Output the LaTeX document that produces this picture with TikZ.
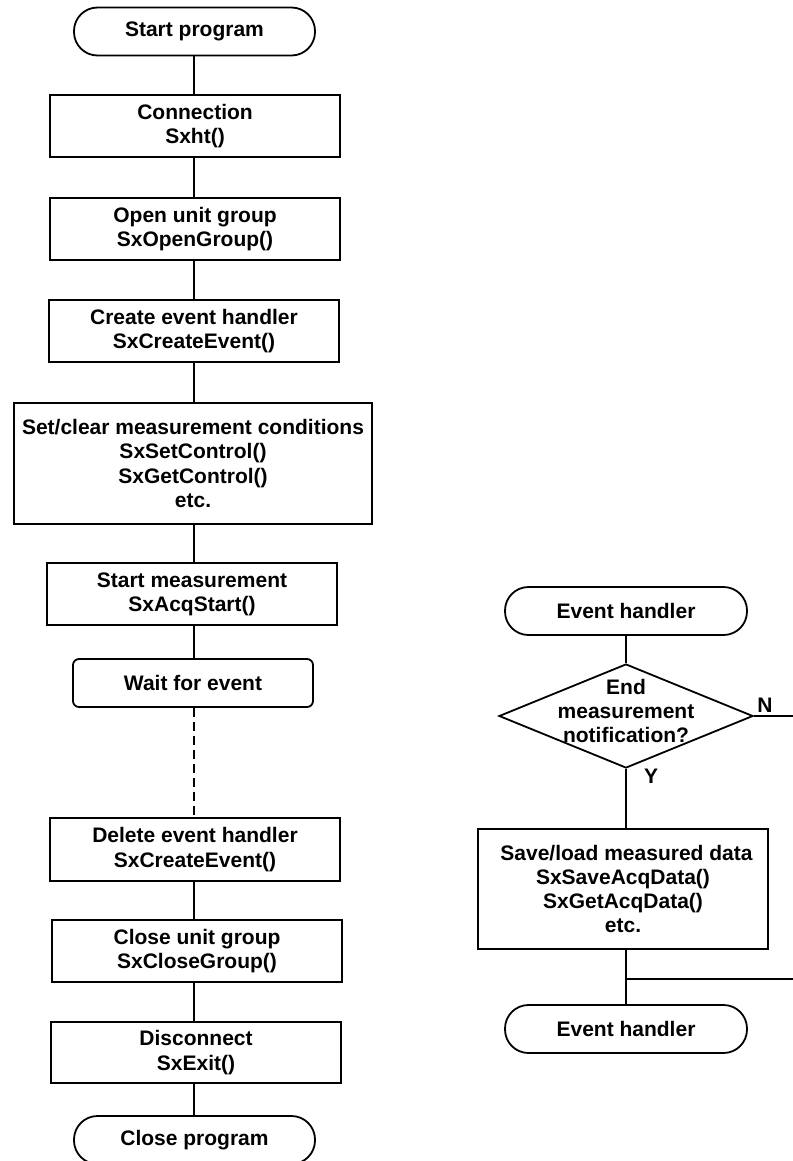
\documentclass[tikz,border=0pt]{standalone}
\usepackage{fontspec}
\setmainfont{Liberation Sans}
\usetikzlibrary{shapes.geometric}
\begin{document}
\begin{tikzpicture}[x=1pt,y=-1pt,
  every node/.style={font=\fontsize{21}{24.3}\selectfont\bfseries, align=center, inner sep=0pt},
  conn/.style={line width=1.8pt},
  procbox/.style={draw, line width=1.8pt, rectangle, minimum width=290pt, minimum height=62pt},
  termbox/.style={draw, line width=1.8pt, rectangle, rounded corners=23.5pt, minimum width=241pt, minimum height=48pt},
  waitbox/.style={draw, line width=1.8pt, rectangle, rounded corners=6pt, minimum width=240pt, minimum height=48pt},
  decbox/.style={draw, line width=1.8pt, diamond, minimum width=254pt, minimum height=104pt},
  lbl/.style={font=\fontsize{21}{24}\selectfont\bfseries}
]
\path[use as bounding box, fill=white] (0,0) rectangle (792,1161);

% left column
\coordinate (lx) at (194,0);
\node[termbox] (start) at (194.5,31.5) {Start program};
\node[procbox] (conn) at (195,126) {Connection\\Sxht()};
\node[procbox] (open) at (195,229) {Open unit group\\SxOpenGroup()};
\node[procbox] (create) at (194,331) {Create event handler\\SxCreateEvent()};
\node[procbox, minimum width=358pt, minimum height=121pt] (setc) at (193,463.5) {Set/clear measurement conditions\\SxSetControl()\\SxGetControl()\\etc.};
\node[procbox] (acq) at (192,594) {Start measurement\\SxAcqStart()};
\node[waitbox] (wait) at (193,683) {Wait for event};
\node[procbox, minimum height=63pt] (del) at (195,849.5) {Delete event handler\\SxCreateEvent()};
\node[procbox] (closeg) at (197,951) {Close unit group\\SxCloseGroup()};
\node[procbox, minimum height=61pt] (disc) at (196,1052.5) {Disconnect\\SxExit()};
\node[termbox] (closep) at (194.5,1140) {Close program};

\draw[conn] (start.south -| lx) -- (conn.north -| lx);
\draw[conn] (conn.south -| lx) -- (open.north -| lx);
\draw[conn] (open.south -| lx) -- (create.north -| lx);
\draw[conn] (create.south -| lx) -- (setc.north -| lx);
\draw[conn] (setc.south -| lx) -- (acq.north -| lx);
\draw[conn] (acq.south -| lx) -- (wait.north -| lx);
\draw[conn, dash pattern=on 9pt off 5pt] (wait.south -| lx) -- (del.north -| lx);
\draw[conn] (del.south -| lx) -- (closeg.north -| lx);
\draw[conn] (closeg.south -| lx) -- (disc.north -| lx);
\draw[conn] (disc.south -| lx) -- (closep.north -| lx);

% right column
\node[termbox, minimum width=242pt] (evt) at (626,611) {Event handler};
\node[decbox] (dec) at (626,716) {};
\node (dectext) at (626,711) {End\\measurement\\notification?};
\node[procbox, minimum height=120pt] (save) at (623,889) {\hspace*{7pt}Save/load measured data\\SxSaveAcqData()\\SxGetAcqData()\\etc.};
\node[termbox, minimum width=242pt] (evb) at (626,1029) {Event handler};
\coordinate (nr) at (796,716);
\coordinate (m) at (626,979);
\coordinate (mr) at (796,979);
\node[lbl] (nlbl) at (765,705) {N};
\node[lbl] (ylbl) at (651,776) {Y};

\draw[conn] (evt) -- (dec);
\draw[conn] (dec.east) -- (nr);
\draw[conn] (dec.south) -- (save.north -| dec.south);
\draw[conn] (save.south -| m) -- (evb.north);
\draw[conn] (m) -- (mr);
\end{tikzpicture}
\end{document}
